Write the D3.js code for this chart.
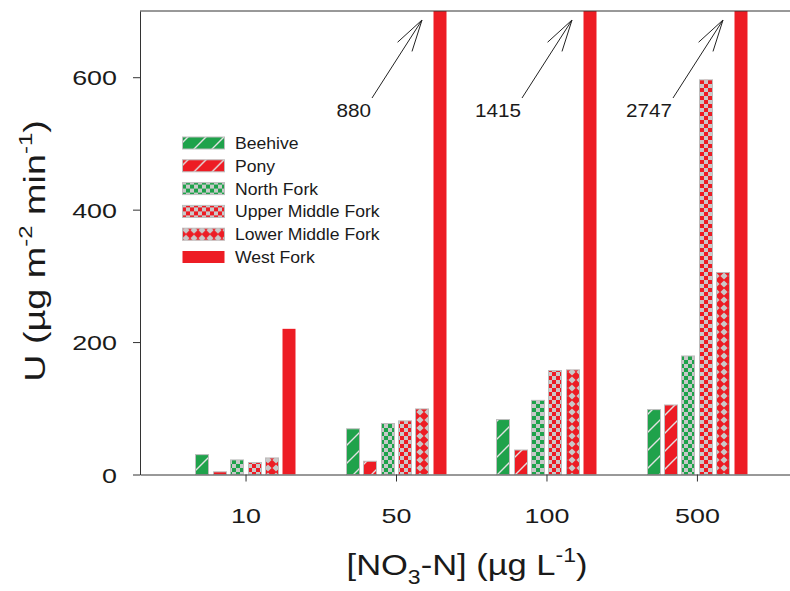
<!DOCTYPE html>
<html>
<head>
<meta charset="utf-8">
<script src="https://cdn.jsdelivr.net/npm/d3@7"></script>
<style>
  body { margin: 0; background: #fff; }
  text { font-family: Arial, "Liberation Sans", sans-serif; fill: #1a1a1a; }
</style>
</head>
<body>
<div id="chart"></div>
<script>
// categories and values
let groups = ["10", "50", "100", "500"];
let series = ["Beehive", "Pony", "North Fork", "Upper Middle Fork", "Lower Middle Fork", "West Fork"];
let beehive = [30, 69, 83, 98];
let pony = [4, 20, 37, 105];
let northFork = [22, 77, 112, 179];
let upperMiddleFork = [18, 81, 157, 596];
let lowerMiddleFork = [25, 99, 158, 305];
let westFork = [220, 880, 1415, 2747];
let yTicks = [0, 200, 400, 600];

let values = [beehive, pony, northFork, upperMiddleFork, lowerMiddleFork, westFork];
let fills = ["url(#diagG)", "url(#diagR)", "url(#checkG)", "url(#checkR)", "url(#diamR)", "#ed1c24"];

let svgWidth = 790, svgHeight = 591;
let margin = { top: 11, left: 140, right: 0, bottom: 116.5 };
let plotBottom = svgHeight - margin.bottom;

let svg = d3.select("#chart").append("svg")
  .attr("width", svgWidth)
  .attr("height", svgHeight);

// patterns
let defs = svg.append("defs");
let green = "#1fa24b", red = "#ed1c24", gray = "#c9c9c9";

function diag(id, base) {
  let p = defs.append("pattern").attr("id", id)
    .attr("patternUnits", "userSpaceOnUse").attr("width", 18).attr("height", 18);
  p.append("rect").attr("width", 18).attr("height", 18).attr("fill", base);
  p.append("path").attr("d", "M0,18L18,0M-4,4L4,-4M14,22L22,14")
    .attr("stroke", "#e2e2e2").attr("stroke-width", 1.4);
}
function check(id, base) {
  let p = defs.append("pattern").attr("id", id)
    .attr("patternUnits", "userSpaceOnUse").attr("width", 8).attr("height", 8);
  p.append("rect").attr("width", 8).attr("height", 8).attr("fill", base);
  p.append("rect").attr("width", 4).attr("height", 4).attr("fill", gray);
  p.append("rect").attr("x", 4).attr("y", 4).attr("width", 4).attr("height", 4).attr("fill", gray);
}
function diamond(id, base) {
  let p = defs.append("pattern").attr("id", id)
    .attr("patternUnits", "userSpaceOnUse").attr("width", 8).attr("height", 8);
  p.append("rect").attr("width", 8).attr("height", 8).attr("fill", base);
  p.append("path").attr("d", "M4,0.4L7.6,4L4,7.6L0.4,4Z").attr("fill", gray);
}
diag("diagG", green);
diag("diagR", red);
check("checkG", green);
check("checkR", red);
diamond("diamR", red);

defs.append("clipPath").attr("id", "plotClip")
  .append("rect")
  .attr("x", margin.left).attr("y", margin.top)
  .attr("width", svgWidth - margin.left).attr("height", plotBottom - margin.top);

// scales
let x0 = d3.scaleBand()
  .domain(groups)
  .range([margin.left, svgWidth])
  .paddingInner(0)
  .paddingOuter(0.16)
  .align(0.64);

let groupWidth = 104.8;
let x1 = d3.scaleBand()
  .domain(series)
  .range([0, groupWidth])
  .paddingInner(0.17)
  .paddingOuter(0.085);

let y = d3.scaleLinear()
  .domain([0, 700])
  .range([plotBottom, margin.top]);

function barX(g, s) {
  return Math.round(x0(g) + x0.bandwidth() / 2 - groupWidth / 2 + x1(s));
}

// bars
let barGroup = svg.append("g").attr("clip-path", "url(#plotClip)");
series.forEach(function(s, si) {
  barGroup.selectAll(null)
    .data(values[si])
    .enter()
    .append("rect")
    .attr("x", (d, gi) => barX(groups[gi], s) + 0.5)
    .attr("width", Math.round(x1.bandwidth()) - 1)
    .attr("y", d => y(Math.min(d, 720)))
    .attr("height", d => plotBottom - y(Math.min(d, 720)))
    .attr("fill", fills[si])
    .attr("stroke", si == 5 ? "none" : "#bdbdbd")
    .attr("stroke-width", 1);
});

// axes
let yAxis = svg.append("g")
  .attr("transform", `translate(${margin.left},0)`)
  .call(d3.axisLeft(y).tickValues(yTicks).tickSize(7).tickSizeOuter(0));
yAxis.select(".domain").attr("stroke", "#333");
yAxis.selectAll(".tick line").attr("stroke", "#333");
yAxis.selectAll(".tick text")
  .attr("x", null).attr("dy", null)
  .attr("font-size", 21)
  .attr("transform", "translate(-23,7.5) scale(1.28,1)");

let xAxis = svg.append("g")
  .attr("transform", `translate(0,${plotBottom})`)
  .call(d3.axisBottom(x0).tickSize(7).tickSizeOuter(0));
xAxis.select(".domain").attr("stroke", "#333");
xAxis.selectAll(".tick line").attr("stroke", "#333");
xAxis.selectAll(".tick text")
  .attr("y", null).attr("dy", null)
  .attr("font-size", 21)
  .attr("transform", "translate(0,48) scale(1.28,1)");

// top frame line
svg.append("line")
  .attr("x1", margin.left).attr("x2", svgWidth)
  .attr("y1", margin.top).attr("y2", margin.top)
  .attr("stroke", "#333");

// annotations for the West Fork bars that run off the chart
let offChart = groups.filter((g, i) => westFork[i] > 700);
offChart.forEach(function(g) {
  let gi = groups.indexOf(g);
  let left = barX(g, "West Fork");
  let tail = [left - 61, 98], tip = [left - 11, 20];
  let ang = Math.atan2(tail[1] - tip[1], tail[0] - tip[0]);
  let hl = 33, ha = 15 * Math.PI / 180;
  let h1 = [tip[0] + hl * Math.cos(ang + ha), tip[1] + hl * Math.sin(ang + ha)];
  let h2 = [tip[0] + hl * Math.cos(ang - ha), tip[1] + hl * Math.sin(ang - ha)];
  svg.append("path")
    .attr("d", `M${tail}L${tip}M${h1}L${tip}L${h2}`)
    .attr("fill", "none").attr("stroke", "#222").attr("stroke-width", 1);
  svg.append("text")
    .attr("transform", `translate(${left - 62},117) scale(1.15,1)`)
    .attr("text-anchor", "end")
    .attr("font-size", 18)
    .text(westFork[gi]);
});

// legend
let legend = svg.append("g");
series.forEach(function(s, i) {
  let row = legend.append("g").attr("transform", `translate(182,${143 + i * 22.8})`);
  row.append("rect")
    .attr("x", 0.5).attr("y", -6).attr("width", 42).attr("height", 12)
    .attr("fill", fills[i])
    .attr("stroke", i == 5 ? "none" : "#bdbdbd");
  row.append("text")
    .attr("transform", "translate(53,6) scale(1.1,1)")
    .attr("font-size", 16)
    .attr("fill", "#222")
    .text(s);
});

// axis titles
let yTitle = svg.append("text")
  .attr("transform", "translate(45,251) rotate(-90) scale(1.26,1)")
  .attr("text-anchor", "middle")
  .attr("font-size", 30);
yTitle.append("tspan").text("U (\u00b5g m");
yTitle.append("tspan").attr("font-size", 19).attr("dy", -13).text("-2");
yTitle.append("tspan").attr("dy", 13).text(" min");
yTitle.append("tspan").attr("font-size", 19).attr("dy", -13).text("-1");
yTitle.append("tspan").attr("dy", 13).text(")");

let xTitle = svg.append("text")
  .attr("transform", "translate(467,575) scale(1.15,1)")
  .attr("text-anchor", "middle")
  .attr("font-size", 30);
xTitle.append("tspan").text("[NO");
xTitle.append("tspan").attr("font-size", 20).attr("dy", 9).text("3");
xTitle.append("tspan").attr("dy", -9).text("-N] (\u00b5g L");
xTitle.append("tspan").attr("font-size", 20).attr("dy", -13).text("-1");
xTitle.append("tspan").attr("dy", 13).text(")");
</script>
</body>
</html>
